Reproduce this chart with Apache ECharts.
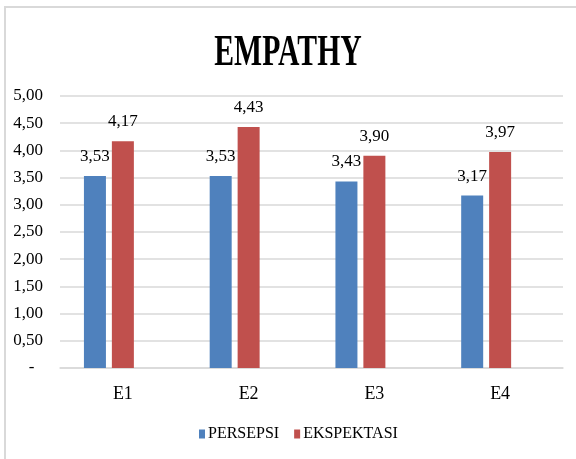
<!DOCTYPE html>
<html>
<head>
<meta charset="utf-8">
<script src="https://cdn.jsdelivr.net/npm/echarts@6/dist/echarts.min.js"></script>
<style>
  html, body { margin: 0; padding: 0; background: #fff; }
  #chart { width: 576px; height: 459px; }
</style>
</head>
<body>
<div id="chart"></div>
<script>
var categories = ['E1', 'E2', 'E3', 'E4'];
var persepsi = [3.53, 3.53, 3.43, 3.17];
var ekspektasi = [4.17, 4.43, 3.90, 3.97];
// the source chart keeps an empty third series, which pushes the two bars left
var spacer = ['-', '-', '-', '-'];

var chart = echarts.init(document.getElementById('chart'));
var font = '"Liberation Serif", "Times New Roman", serif';

function fmt(v) {
  if (v === 0) return '-  ';
  return v.toFixed(2).replace('.', ',');
}

var option = {
  backgroundColor: '#ffffff',
  animation: false,
  color: ['#4F81BD', '#C0504D', '#9BBB59'],
  graphic: [
    {
      type: 'rect',
      shape: { x: 5, y: 7, width: 600, height: 470 },
      style: { fill: null, stroke: '#d9d9d9', lineWidth: 2 }
    },
    {
      type: 'text',
      x: 288,
      y: 53,
      scaleX: 0.66,
      style: {
        text: 'EMPATHY',
        font: 'bold 45px ' + font,
        fill: '#000',
        align: 'center',
        verticalAlign: 'middle'
      }
    }
  ],
  legend: {
    data: ['PERSEPSI', 'EKSPEKTASI'],
    bottom: 12,
    left: 194,
    icon: 'rect',
    itemWidth: 6,
    itemHeight: 9,
    itemGap: 15,
    textStyle: { fontFamily: font, fontSize: 16, color: '#000', padding: [0, 0, 0, -2] }
  },
  grid: {
    left: 60,
    right: 13,
    top: 96,
    bottom: 91
  },
  xAxis: {
    type: 'category',
    data: categories,
    axisTick: { show: false },
    axisLine: { lineStyle: { color: '#d9d9d9', width: 1.5 } },
    axisLabel: { fontFamily: font, fontSize: 18, color: '#000', margin: 17 }
  },
  yAxis: {
    type: 'value',
    min: 0,
    max: 5,
    interval: 0.5,
    axisLine: { show: false },
    axisTick: { show: false },
    splitLine: { lineStyle: { color: '#d9d9d9', width: 1.5 } },
    axisLabel: {
      fontFamily: font, fontSize: 17, color: '#000', margin: 17,
      formatter: fmt
    }
  },
  series: [
    {
      name: 'PERSEPSI',
      type: 'bar',
      data: persepsi,
      barWidth: 22,
      barGap: '27%',
      label: {
        show: true, position: 'top', distance: 11,
        fontFamily: font, fontSize: 17, color: '#000',
        formatter: function (p) { return fmt(p.value); }
      }
    },
    {
      name: 'EKSPEKTASI',
      type: 'bar',
      data: ekspektasi,
      barWidth: 22,
      barGap: '27%',
      label: {
        show: true, position: 'top', distance: 11,
        fontFamily: font, fontSize: 17, color: '#000',
        formatter: function (p) { return fmt(p.value); }
      }
    },
    {
      name: 'spacer',
      type: 'bar',
      data: spacer,
      barWidth: 22,
      barGap: '27%'
    }
  ]
};
chart.setOption(option);
</script>
</body>
</html>
